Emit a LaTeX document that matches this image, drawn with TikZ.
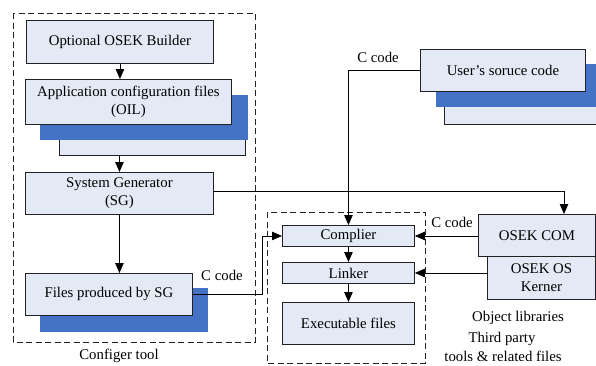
\documentclass[tikz,border=0pt]{standalone}
\usepackage{fontspec}
\setmainfont{Liberation Serif}
\usetikzlibrary{arrows.meta}
\definecolor{lightfill}{HTML}{E3EAF6}
\definecolor{accentblue}{HTML}{4472C4}
\definecolor{edge}{HTML}{222222}
\begin{document}
\begin{tikzpicture}[x=1pt,y=-1pt,
  txt/.style={font=\fontsize{14.8}{18}\selectfont},
  box/.style={draw=edge, line width=0.9pt, fill=lightfill, inner sep=0pt, anchor=north west, align=center, txt},
  back/.style={draw=edge, line width=0.9pt, fill=lightfill, inner sep=0pt, anchor=north west},
  shade/.style={fill=accentblue, draw=none, inner sep=0pt, anchor=north west},
  frame/.style={draw=edge, line width=0.8pt, dash pattern=on 6pt off 3.5pt},
  conn/.style={draw=black, line width=0.8pt},
  arr/.style={conn, -{Triangle[width=8.5pt,length=10pt]}},
  lbl/.style={txt, inner sep=0pt}
]
\useasboundingbox (0,0) rectangle (596,365);

% frames
\draw[frame] (13,13) rectangle (255,342);
\draw[frame] (267,212) rectangle (425,363);

% configer tool column
\node[box, minimum width=187pt, minimum height=43pt] (builder) at (26,20) {Optional OSEK Builder};
\node[back, minimum width=186pt, minimum height=45pt] (appback) at (59,110) {};
\node[shade, minimum width=208pt, minimum height=45pt] (appshade) at (40,95) {};
\node[box, minimum width=206pt, minimum height=45pt] (appcfg) at (25,79) {Application configuration files\\(OIL)};
\node[box, minimum width=188pt, minimum height=42pt] (sg) at (25,172) {System Generator\\(SG)};
\node[shade, minimum width=168pt, minimum height=44pt] (filesshade) at (40,288) {};
\node[box, minimum width=167pt, minimum height=42pt] (files) at (25,273) {Files produced by SG};

% user source code
\node[back, minimum width=160pt, minimum height=44pt] (userback) at (444,80) {};
\node[shade, minimum width=165pt, minimum height=43pt] (usershade) at (436,64) {};
\node[box, minimum width=165pt, minimum height=42pt] (user) at (420,49) {User’s soruce code};

% tool chain
\node[box, minimum width=132pt, minimum height=21pt] (complier) at (282,225) {Complier};
\node[box, minimum width=132pt, minimum height=21pt] (linker) at (282,262) {Linker};
\node[box, minimum width=132pt, minimum height=42pt] (exec) at (282,302) {Executable files};

% OSEK libs
\node[box, minimum width=108pt, minimum height=43pt] (kerner) at (487,256) {OSEK OS\\Kerner};
\node[box, minimum width=117pt, minimum height=42pt] (osekcom) at (478,214) {OSEK COM};

% connectors
\draw[arr] (builder.south) -- (builder.south |- appcfg.north);
\draw[arr] (sg.north |- appback.south) -- (sg.north);
\draw[arr] (sg.south) -- (sg.south |- files.north);
\coordinate (comin) at ([xshift=86pt]osekcom.north west);
\draw[arr] ([yshift=2pt]sg.east) -| (comin);
\draw[arr] (files.east) -- ++(69,0) |- (complier.west);
\draw[arr] (user.west) -| (complier.north);
\draw[arr] (osekcom.west |- complier) -- (complier.east);
\draw[arr] (kerner.west |- linker) -- (linker.east);
\draw[arr] (complier) -- (linker);
\draw[arr] (linker) -- (exec);

% labels
\node[lbl] (cc1) at (378,57) {C code};
\node[lbl] (cc2) at (222,275) {C code};
\node[lbl] (cc3) at (452,222) {C code};
\node[lbl] (cfgtool) at (119,356) {Configer tool};
\node[lbl] (objlib) at (518,318) {Object libraries};
\node[lbl] (third) at (502,339) {Third party};
\node[lbl] (tools) at (503,356) {tools \& related files};
\end{tikzpicture}
\end{document}
